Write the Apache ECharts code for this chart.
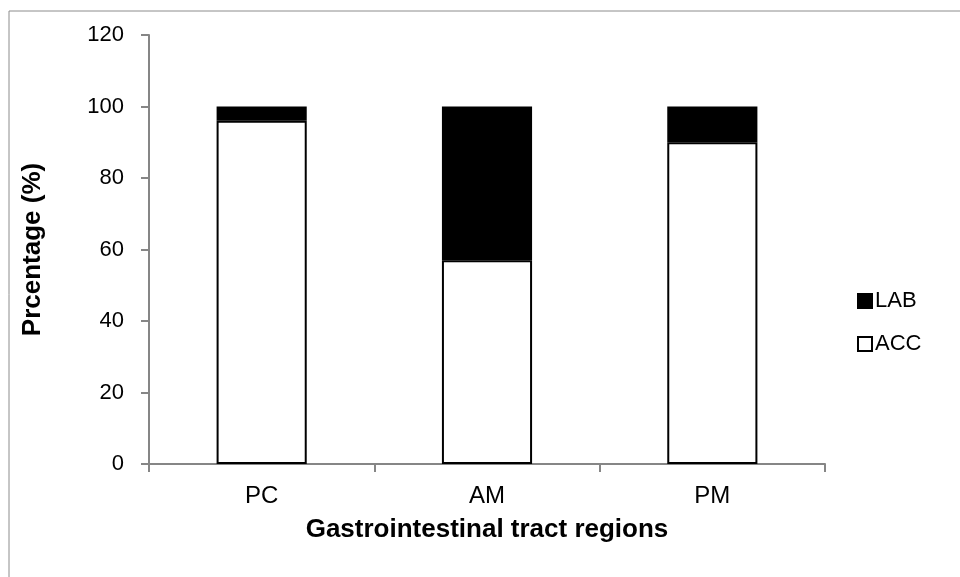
<!DOCTYPE html>
<html>
<head>
<meta charset="utf-8">
<script src="https://cdn.jsdelivr.net/npm/echarts@6/dist/echarts.min.js"></script>
<style>
  html, body { margin: 0; padding: 0; background: #fff; }
  #chart { width: 960px; height: 577px; }
</style>
</head>
<body>
<div id="chart"></div>
<script>
// Share of isolates per gastrointestinal tract region
const regions = ['PC', 'AM', 'PM'];
const accValues = [96, 57, 90];
const labValues = [4, 43, 10];
const yTicks = [0, 20, 40, 60, 80, 100, 120];

const axisGray = '#868686';
const font = 'Liberation Sans, Arial, sans-serif';

const chart = echarts.init(document.getElementById('chart'), null, { renderer: 'canvas' });

chart.setOption({
  backgroundColor: '#ffffff',
  animation: false,
  graphic: [{
    type: 'rect',
    shape: { x: 9, y: 11, width: 1200, height: 1200 },
    style: { fill: 'none', stroke: '#8c8c8c', lineWidth: 1 },
    silent: true
  }],
  grid: { left: 149, right: 135, top: 35, bottom: 113 },
  legend: {
    data: ['LAB', 'ACC'],
    orient: 'vertical',
    left: 852,
    top: 285,
    itemWidth: 14,
    itemHeight: 14,
    itemGap: 21,
    icon: 'rect',
    textStyle: { fontFamily: font, fontSize: 22, color: '#000', padding: [0, 0, 0, -2] }
  },
  xAxis: {
    type: 'category',
    data: regions,
    name: 'Gastrointestinal tract regions',
    nameLocation: 'middle',
    nameGap: 53,
    nameTextStyle: { fontFamily: font, fontSize: 26, fontWeight: 'bold', color: '#000' },
    axisLine: { lineStyle: { color: axisGray, width: 2 } },
    axisTick: { show: true, length: 8, lineStyle: { color: axisGray, width: 2 } },
    axisLabel: { fontFamily: font, fontSize: 24, color: '#000', margin: 20 }
  },
  yAxis: {
    type: 'value',
    min: yTicks[0],
    max: yTicks[yTicks.length - 1],
    interval: yTicks[1] - yTicks[0],
    name: 'Prcentage (%)',
    nameLocation: 'middle',
    nameGap: 103,
    nameTextStyle: { fontFamily: font, fontSize: 26, fontWeight: 'bold', color: '#000' },
    axisLine: { show: true, lineStyle: { color: axisGray, width: 2 } },
    axisTick: { show: true, length: 8, lineStyle: { color: axisGray, width: 2 } },
    axisLabel: { fontFamily: font, fontSize: 22, color: '#000', margin: 25 },
    splitLine: { show: false }
  },
  series: [
    {
      name: 'ACC',
      type: 'bar',
      stack: 'total',
      data: accValues,
      barWidth: '40%',
      itemStyle: { color: '#ffffff', borderColor: '#000000', borderWidth: 2 }
    },
    {
      name: 'LAB',
      type: 'bar',
      stack: 'total',
      data: labValues,
      barWidth: '40%',
      itemStyle: { color: '#000000', borderColor: '#000000', borderWidth: 2 }
    }
  ]
});
</script>
</body>
</html>
